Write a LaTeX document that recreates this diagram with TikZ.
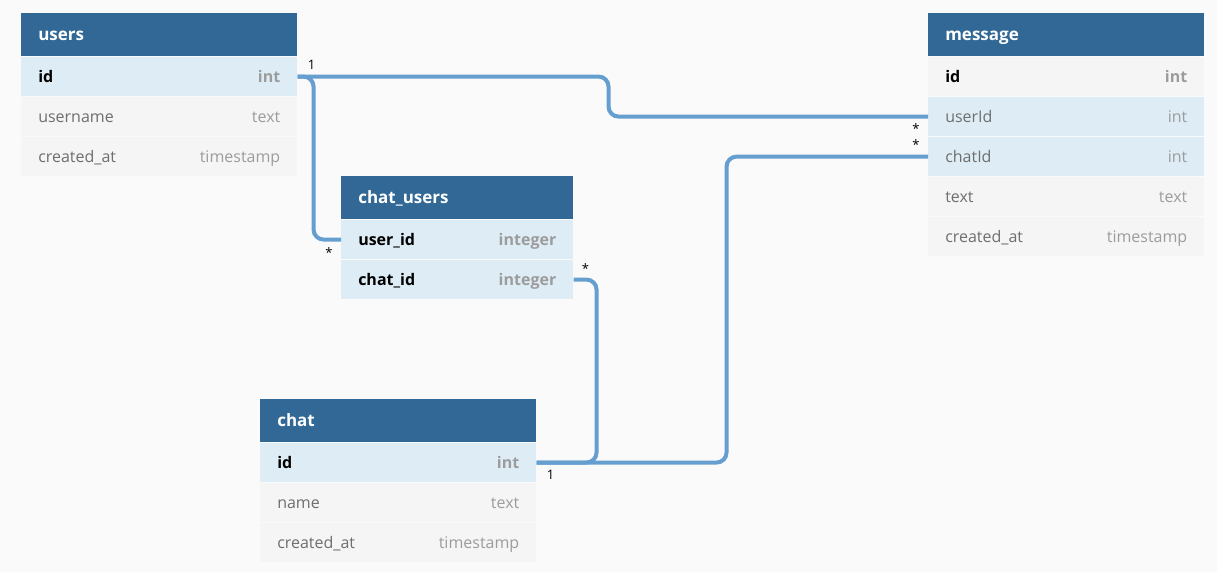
\documentclass[tikz,border=0pt]{standalone}
\usepackage{fontspec}
\setmainfont{Open Sans}
\usetikzlibrary{positioning}
\definecolor{bgcol}{HTML}{FAFAFA}
\definecolor{headblue}{HTML}{316896}
\definecolor{keyblue}{HTML}{DEEDF5}
\definecolor{rowgrey}{HTML}{F5F5F5}
\definecolor{namegrey}{HTML}{6E6E6E}
\definecolor{typegrey}{HTML}{9C9C9C}
\definecolor{linkblue}{HTML}{659FD0}

\begin{document}
\begin{tikzpicture}[x=0.75pt,y=-0.75pt,
    table/.style={anchor=north west,inner xsep=12.75pt,inner ysep=0pt,text width=181.5pt,align=left},
    head/.style={table,fill=headblue,text=white,minimum height=32.25pt,text height=11pt,text depth=2pt,font=\fontsize{12.75}{15}\selectfont\bfseries},
    row/.style={table,fill=rowgrey,text=namegrey,minimum height=29.625pt,text height=11pt,text depth=2pt,font=\fontsize{12}{14}\selectfont},
    pk/.style={text=black,font=\fontsize{12}{14}\selectfont\bfseries},
    hl/.style={fill=keyblue},
    link/.style={draw=linkblue,line width=3pt,rounded corners=7.5pt},
    card/.style={inner sep=0pt,font=\fontsize{9.75}{11}\selectfont}]
    \fill[bgcol] (0,0) rectangle (1217,572);

    \node[head] (u) at (21,13) {users};
    \node[row,pk,hl] (u1) [below=0pt of u] {id\hfill\textcolor{typegrey}{int}};
    \node[row] (u2) [below=0pt of u1] {username\hfill\textcolor{typegrey}{text}};
    \node[row] (u3) [below=0pt of u2] {created\_at\hfill\textcolor{typegrey}{timestamp}};

    \node[head] (m) at (928,13) {message};
    \node[row,pk] (m1) [below=0pt of m] {id\hfill\textcolor{typegrey}{int}};
    \node[row,hl] (m2) [below=0pt of m1] {userId\hfill\textcolor{typegrey}{int}};
    \node[row,hl] (m3) [below=0pt of m2] {chatId\hfill\textcolor{typegrey}{int}};
    \node[row] (m4) [below=0pt of m3] {text\hfill\textcolor{typegrey}{text}};
    \node[row] (m5) [below=0pt of m4] {created\_at\hfill\textcolor{typegrey}{timestamp}};

    \node[head,text width=148.5pt] (cu) at (341,176) {chat\_users};
    \node[row,pk,hl,text width=148.5pt] (cu1) [below=0pt of cu] {user\_id\hfill\textcolor{typegrey}{integer}};
    \node[row,pk,hl,text width=148.5pt] (cu2) [below=0pt of cu1] {chat\_id\hfill\textcolor{typegrey}{integer}};

    \node[head] (c) at (260,399) {chat};
    \node[row,pk,hl] (c1) [below=0pt of c] {id\hfill\textcolor{typegrey}{int}};
    \node[row] (c2) [below=0pt of c1] {name\hfill\textcolor{typegrey}{text}};
    \node[row] (c3) [below=0pt of c2] {created\_at\hfill\textcolor{typegrey}{timestamp}};

    \draw[link] (u1.east) -- ++(311,0) |- (m2.west);
    \draw[link] (u1.east) -- ++(16,0) |- (cu1.west);
    \draw[link] (c1.east) -- ++(60,0) |- (cu2.east);
    \draw[link] (c1.east) -- ++(190,0) |- (m3.west);

    \path (u1.east) ++(10,-6.75) node[card,anchor=base west] {1};
    \path (cu1.west) ++(-12,13) node[card] {*};
    \path (cu2.east) ++(12,-11) node[card] {*};
    \path (m2.west) ++(-12,12.25) node[card] {*};
    \path (m3.west) ++(-12,-12.25) node[card] {*};
    \path (c1.east) ++(10,17.25) node[card,anchor=base west] {1};
\end{tikzpicture}
\end{document}
